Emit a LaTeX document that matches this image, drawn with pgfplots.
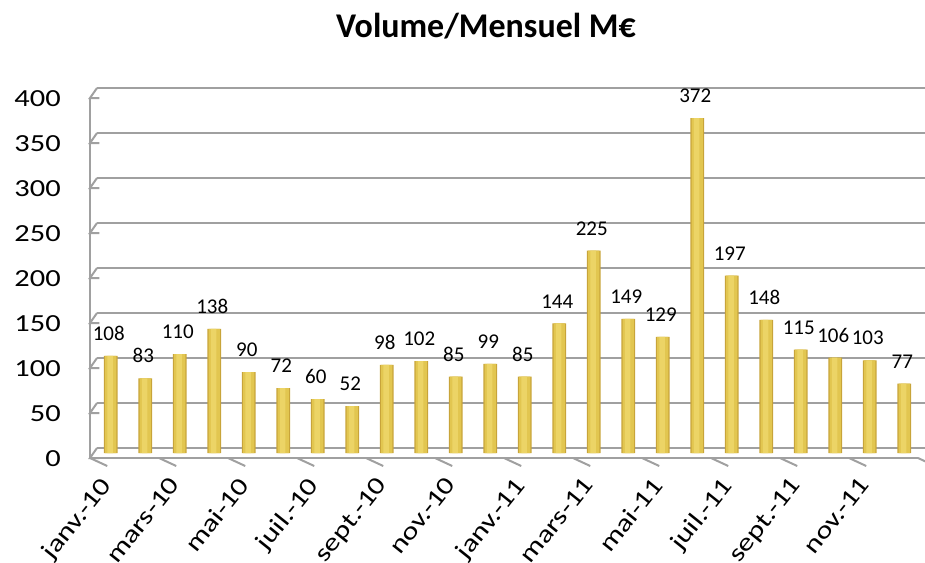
\documentclass[border=0pt]{standalone}
\usepackage{fontspec}
\setmainfont{Carlito}[FakeStretch=1.24]
\newfontfamily\plainfont{Carlito}
\newfontfamily\titlefont{Carlito}[FakeStretch=0.98]
\usepackage{pgfplots}
\usepackage{pgfplotstable}
\pgfplotsset{compat=1.18}
\definecolor{gridc}{HTML}{A0A0A0}
\definecolor{barE}{HTML}{C8A43A}
\definecolor{barM}{HTML}{E2C650}
\definecolor{barH}{HTML}{ECD466}
\pgfplotstableread{
x y
0 108
1 83
2 110
3 138
4 90
5 72
6 60
7 52
8 98
9 102
10 85
11 99
12 85
13 144
14 225
15 149
16 129
17 372
18 197
19 148
20 115
21 106
22 103
23 77
}\datatable
\begin{document}
\begin{tikzpicture}
\path[use as bounding box] (0,0) rectangle (693.75pt,-422.25pt);
\node[font=\titlefont\fontsize{26}{30}\selectfont\bfseries, anchor=base] at (364.5pt,-28.5pt) {Volume/Mensuel M€};
\begin{axis}[
  at={(72.75pt,-336pt)}, anchor=south west,
  scale only axis, width=621pt, height=270pt,
  xmin=-0.5, xmax=23.5, ymin=0, ymax=400,
  clip=false,
  axis line style={draw=none},
  ytick={0,50,...,400},
  xtick={0,2,...,22},
  xticklabels={janv.-10,mars-10,mai-10,juil.-10,sept.-10,nov.-10,janv.-11,mars-11,mai-11,juil.-11,sept.-11,nov.-11},
  major tick length=0pt,
  ymajorgrids, major grid style={gridc, line width=1.5pt},
  /pgf/number format/assume math mode=true,
  yticklabel style={font=\fontsize{18.4}{20}\selectfont, anchor=east, inner sep=0pt, xshift=-27pt, yshift=-8.25pt},
  xticklabel style={font=\plainfont\fontsize{18.4}{20}\selectfont, xshift=-11.25pt, yshift=-20.25pt, rotate=51.3, xscale=1.25, transform shape, anchor=north east, inner sep=0pt},
]
\pgfplotsinvokeforeach{0,50,100,150,200,250,300,350,400}{
  \draw[gridc, line width=1.5pt] (axis cs:-0.5,#1) -- ([shift={(-5.25pt,-7.5pt)}]axis cs:-0.5,#1) -- ++(-6pt,0);
}
\draw[gridc, line width=1.5pt] ([shift={(-5.25pt,-7.5pt)}]axis cs:-0.5,400) -- ([shift={(-5.25pt,-7.5pt)}]axis cs:-0.5,0) -- ([shift={(-5.25pt,-7.5pt)}]axis cs:23.5,0);
\pgfplotsinvokeforeach{-0.5,1.5,3.5,5.5,7.5,9.5,11.5,13.5,15.5,17.5,19.5,21.5,23.5}{
  \draw[gridc, line width=1.5pt] ([shift={(-5.25pt,-7.5pt)}]axis cs:#1,0) -- ++(0,-6pt);
}
\addplot[ybar, bar width=0.40, draw=none, fill=barE,
  xshift=-2.625pt, yshift=-3.75pt] table[x=x,y=y] {\datatable};
\addplot[ybar, bar width=0.32, draw=none, fill=barM,
  xshift=-2.625pt, yshift=-3.75pt] table[x=x,y=y] {\datatable};
\addplot[ybar, bar width=0.16, bar shift=-0.02, draw=none, fill=barH,
  xshift=-2.625pt, yshift=-3.75pt] table[x=x,y=y] {\datatable};
\addplot[draw=none, mark=none, xshift=-2.625pt, yshift=-3.75pt,
  nodes near coords,
  every node near coord/.append style={font=\plainfont\fontsize{15.75}{18}\selectfont, text=black, anchor=south, inner sep=0pt, yshift=11.25pt, xshift=-1.5pt}] table[x=x,y=y] {\datatable};
\end{axis}
\end{tikzpicture}
\end{document}
